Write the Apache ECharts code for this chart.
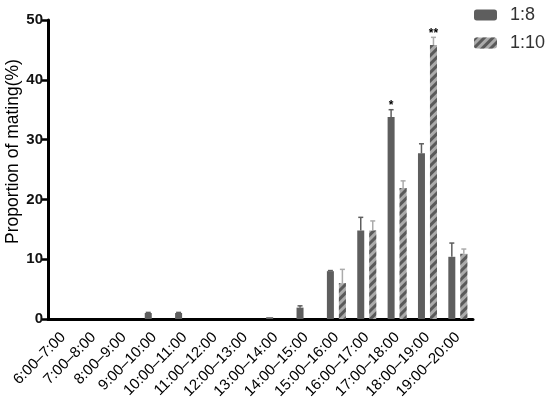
<!DOCTYPE html>
<html><head><meta charset="utf-8">
<script src="https://cdn.jsdelivr.net/npm/echarts@6/dist/echarts.min.js"></script>
<style>html,body{margin:0;padding:0;background:#fff}#c{width:550px;height:409px}</style>
</head><body><div id="c"></div>
<script>
const categories = ['6:00–7:00','7:00–8:00','8:00–9:00','9:00–10:00','10:00–11:00','11:00–12:00','12:00–13:00','13:00–14:00','14:00–15:00','15:00–16:00','16:00–17:00','17:00–18:00','18:00–19:00','19:00–20:00'];
const ratio8 = [0,0,0,1,1,0,0,0.3,1.9,8,14.8,33.8,27.7,10.4];
const ratio8Err = [0,0,0,0.1,0.1,0,0,0,0.3,0.1,2.2,1.2,1.6,2.3];
const ratio10 = [0,0,0,0,0,0,0,0,0,6,14.8,21.9,45.8,10.9];
const ratio10Err = [0,0,0,0,0,0,0,0,0,2.3,1.6,1.2,1.3,0.8];
const sig8 = ['','','','','','','','','','','','*','',''];
const sig10 = ['','','','','','','','','','','','','**',''];
const yTicks = [0,10,20,30,40,50];

const dark = '#5e5e5e', light = '#ababab';
const BW = 7, GAP = 5;

function errSeries(vals, errs, sig, color, sign) {
  return {
    type: 'custom',
    silent: true,
    z: 5,
    data: vals.map((v, i) => [i, v, errs[i]]),
    renderItem: function (params, api) {
      const i = api.value(0), v = api.value(1), e = api.value(2);
      const s = sig[i];
      const off = sign * (BW + GAP) / 2;
      const p0 = api.coord([i, v]);
      const p1 = api.coord([i, v + e]);
      const x = p0[0] + off;
      const children = [];
      if (e > 0) {
        children.push({type:'line', shape:{x1:x,y1:p0[1],x2:x,y2:p1[1]}, style:{stroke:color,lineWidth:1.5}});
        children.push({type:'line', shape:{x1:x-2.5,y1:p1[1],x2:x+2.5,y2:p1[1]}, style:{stroke:color,lineWidth:1.5}});
      }
      if (s) {
        children.push({type:'text', style:{text:s, x:x, y:p1[1]+2, align:'center', verticalAlign:'bottom', fill:'#000', font:'bold 12px "Liberation Sans"'}});
      }
      return {type:'group', children};
    }
  };
}

const chart = echarts.init(document.getElementById('c'));
chart.setOption({
  animation: false,
  textStyle: {fontFamily: '"Liberation Sans", Arial, sans-serif'},
  grid: {left: 48, right: 77, top: 20, bottom: 90, containLabel: false, outerBoundsMode: 'none'},
  legend: {
    orient: 'vertical', left: 474, top: 6, padding: 0, itemWidth: 23, itemHeight: 11, itemGap: 10,
    textStyle: {fontSize: 18, color: '#333', padding: [0,0,0,8]},
    data: ['1:8', '1:10']
  },
  xAxis: {
    type: 'category', data: categories,
    axisLine: {lineStyle: {color: '#000', width: 3}},
    axisTick: {alignWithLabel: true, length: 7, lineStyle: {color: '#000', width: 2.5}},
    axisLabel: {rotate: 45, color: '#000', fontSize: 15, margin: 16, interval: 0, hideOverlap: false}
  },
  yAxis: {
    type: 'value', min: 0, max: 50, interval: 10,
    name: 'Proportion of mating(%)', nameLocation: 'middle', nameGap: 26, nameMoveOverlap: false,
    nameTextStyle: {fontSize: 17.5, color: '#000', padding: [0, 0, 0, 36]},
    splitLine: {show: false},
    axisLine: {show: true, lineStyle: {color: '#000', width: 3}},
    axisTick: {show: true, length: 6, lineStyle: {color: '#000', width: 2.5}},
    axisLabel: {color: '#111', fontSize: 15, fontWeight: 'bold', margin: 5,
      formatter: v => yTicks.includes(v) ? String(v) : ''}
  },
  series: [
    {name: '1:8', type: 'bar', data: ratio8, barWidth: BW, barGap: (GAP / BW * 100) + '%',
     itemStyle: {color: dark}},
    {name: '1:10', type: 'bar', data: ratio10, barWidth: BW,
     itemStyle: {color: light, decal: {symbol: 'rect', color: '#5a5a5a', dashArrayX: [1, 0], dashArrayY: [3, 3], rotation: -Math.PI / 4, symbolSize: 1}}},
    errSeries(ratio8, ratio8Err, sig8, dark, -1),
    errSeries(ratio10, ratio10Err, sig10, light, 1)
  ]
});
</script></body></html>
